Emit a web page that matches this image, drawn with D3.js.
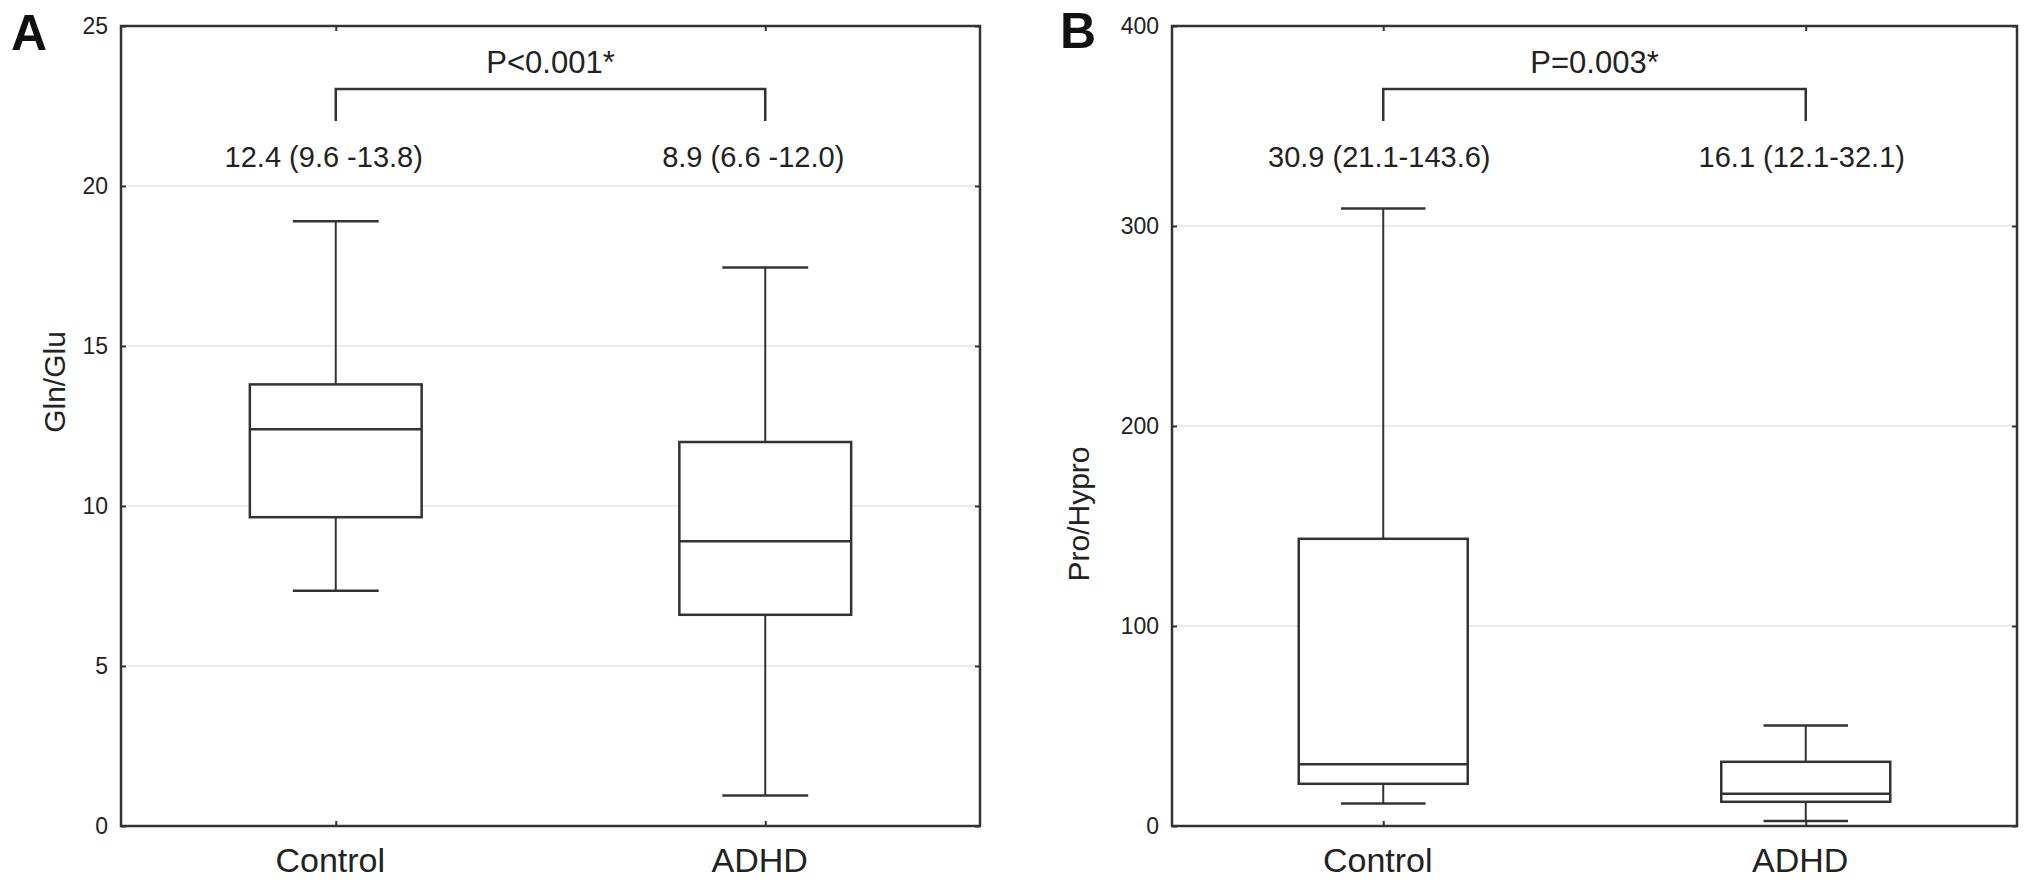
<!DOCTYPE html>
<html>
<head>
<meta charset="utf-8">
<script src="https://cdn.jsdelivr.net/npm/d3@7"></script>
<style>
  body { margin: 0; background: #fff; }
  svg { display: block; font-family: "Liberation Sans", Arial, sans-serif; }
</style>
</head>
<body>
<div id="chart"></div>
<script>
// values: [lower whisker, Q1, median, Q3, upper whisker]
var categories = ["Control", "ADHD"];

var glnGluControl = [7.35, 9.65, 12.4, 13.8, 18.9];
var glnGluAdhd = [0.95, 6.6, 8.9, 12.0, 17.45];
var glnGluTicks = [0, 5, 10, 15, 20, 25];
var glnGluLabels = ["12.4 (9.6 -13.8)", "8.9 (6.6 -12.0)"];
var glnGluP = "P<0.001*";

var proHyproControl = [11.3, 21.1, 30.9, 143.6, 308.8];
var proHyproAdhd = [2.5, 12.1, 16.1, 32.1, 50.2];
var proHyproTicks = [0, 100, 200, 300, 400];
var proHyproLabels = ["30.9 (21.1-143.6)", "16.1 (12.1-32.1)"];
var proHyproP = "P=0.003*";

var width = 2031;
var height = 886;
var ink = "#333";

var svg = d3.select("#chart")
  .append("svg")
  .attr("width", width)
  .attr("height", height);

/**
 * draws one boxplot panel
 */
function drawPanel(opts) {
  var left = opts.left, right = opts.right, top = 26, bottom = 826;

  var x = d3.scalePoint()
    .domain(categories)
    .range([left, right])
    .padding(0.5);

  var y = d3.scaleLinear()
    .domain([0, opts.ticks[opts.ticks.length - 1]])
    .range([bottom, top]);

  var g = svg.append("g");

  // grid lines
  g.append("g")
    .selectAll("line")
    .data(opts.ticks.slice(1, -1))
    .enter().append("line")
    .attr("x1", left).attr("x2", right)
    .attr("y1", function (d) { return y(d); })
    .attr("y2", function (d) { return y(d); })
    .attr("stroke", "#e4e4e4")
    .attr("stroke-width", 1.5);

  // axes, all ticks pointing inward
  var yAxis = g.append("g")
    .attr("transform", "translate(" + left + ",0)")
    .call(d3.axisLeft(y).tickValues(opts.ticks).tickSizeInner(-5).tickSizeOuter(0).tickPadding(13));
  var xAxis = g.append("g")
    .attr("transform", "translate(0," + bottom + ")")
    .call(d3.axisBottom(x).tickSizeInner(-5).tickSizeOuter(0).tickPadding(22));
  g.append("g")
    .attr("transform", "translate(" + right + ",0)")
    .call(d3.axisRight(y).tickValues(opts.ticks).tickSizeInner(-5).tickSizeOuter(0).tickFormat(""));
  g.append("g")
    .attr("transform", "translate(0," + top + ")")
    .call(d3.axisTop(x).tickSizeInner(-5).tickSizeOuter(0).tickFormat(""));

  g.selectAll(".domain").remove();
  g.selectAll(".tick line").attr("stroke", ink).attr("stroke-width", 2);
  yAxis.selectAll("text").style("font-size", "23px").attr("fill", "#222");
  xAxis.selectAll("text").style("font-size", "34px").attr("fill", "#222").attr("dx", -6);

  // frame
  g.append("rect")
    .attr("x", left).attr("y", top)
    .attr("width", right - left).attr("height", bottom - top)
    .attr("fill", "none")
    .attr("stroke", ink)
    .attr("stroke-width", 2.5);

  var boxHalf = (right - left) * 0.1;
  var capHalf = (right - left) * 0.05;

  var boxes = g.selectAll(".box")
    .data(opts.series)
    .enter().append("g")
    .attr("class", "box")
    .attr("transform", function (d, i) { return "translate(" + x(categories[i]) + ",0)"; });

  // whiskers
  boxes.append("line")
    .attr("y1", function (d) { return y(d[0]); })
    .attr("y2", function (d) { return y(d[4]); })
    .attr("stroke", ink).attr("stroke-width", 2);
  boxes.selectAll(".cap")
    .data(function (d) { return [d[0], d[4]]; })
    .enter().append("line")
    .attr("class", "cap")
    .attr("x1", -capHalf).attr("x2", capHalf)
    .attr("y1", function (v) { return y(v); })
    .attr("y2", function (v) { return y(v); })
    .attr("stroke", ink).attr("stroke-width", 2.5);

  // box and median
  boxes.append("rect")
    .attr("x", -boxHalf)
    .attr("width", boxHalf * 2)
    .attr("y", function (d) { return y(d[3]); })
    .attr("height", function (d) { return y(d[1]) - y(d[3]); })
    .attr("fill", "#fff")
    .attr("stroke", ink).attr("stroke-width", 2.5);
  boxes.append("line")
    .attr("x1", -boxHalf).attr("x2", boxHalf)
    .attr("y1", function (d) { return y(d[2]); })
    .attr("y2", function (d) { return y(d[2]); })
    .attr("stroke", ink).attr("stroke-width", 2.5);

  // median (IQR) text
  g.selectAll(".stat")
    .data(opts.labels)
    .enter().append("text")
    .attr("x", function (d, i) { return x(categories[i]) + opts.statShift; })
    .attr("y", top + 141)
    .attr("text-anchor", "middle")
    .style("font-size", "29px")
    .attr("fill", "#222")
    .text(function (d) { return d; });

  // significance bracket
  var x0 = x(categories[0]), x1 = x(categories[1]);
  g.append("path")
    .attr("d", "M" + x0 + "," + (top + 95) + "V" + (top + 63) + "H" + x1 + "V" + (top + 95))
    .attr("fill", "none")
    .attr("stroke", ink).attr("stroke-width", 2.5);
  g.append("text")
    .attr("x", (x0 + x1) / 2)
    .attr("y", top + 47)
    .attr("text-anchor", "middle")
    .style("font-size", "31px")
    .attr("fill", "#222")
    .text(opts.p);

  // y title
  g.append("text")
    .attr("transform", "translate(" + opts.titleX + "," + opts.titleY + ") rotate(-90)")
    .attr("text-anchor", "middle")
    .style("font-size", "30px")
    .attr("fill", "#222")
    .text(opts.title);

  // panel letter
  g.append("text")
    .attr("x", opts.letterX)
    .attr("y", opts.letterY)
    .style("font-size", "50px")
    .style("font-weight", "bold")
    .attr("fill", "#111")
    .text(opts.letter);
}

drawPanel({
  left: 121, right: 980,
  ticks: glnGluTicks,
  series: [glnGluControl, glnGluAdhd],
  labels: glnGluLabels,
  statShift: -12,
  p: glnGluP,
  title: "Gln/Glu", titleX: 65, titleY: 382,
  letter: "A", letterX: 11, letterY: 50
});

drawPanel({
  left: 1172, right: 2017,
  ticks: proHyproTicks,
  series: [proHyproControl, proHyproAdhd],
  labels: proHyproLabels,
  statShift: -4,
  p: proHyproP,
  title: "Pro/Hypro", titleX: 1089, titleY: 514,
  letter: "B", letterX: 1060, letterY: 48
});
</script>
</body>
</html>
